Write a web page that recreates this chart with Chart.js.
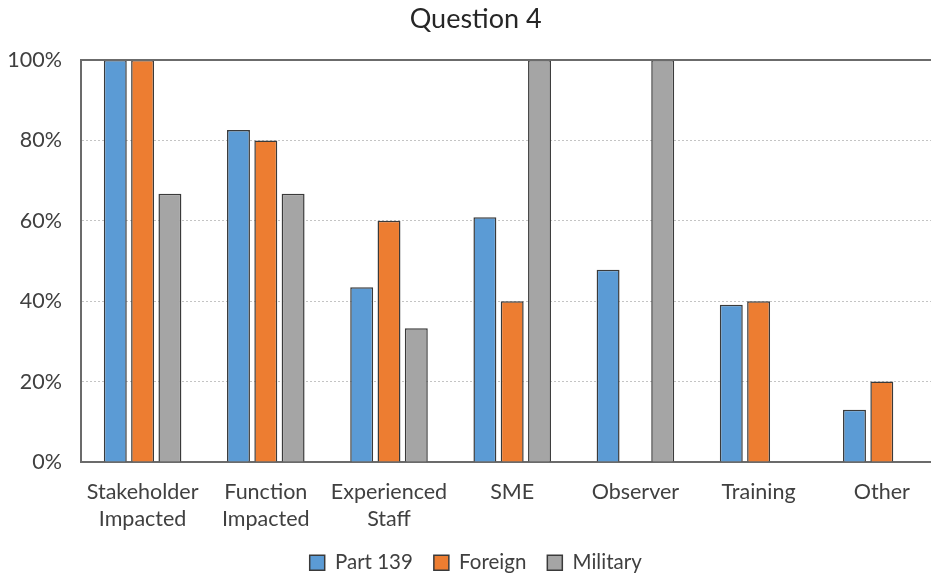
<!DOCTYPE html>
<html>
<head>
<meta charset="utf-8">
<script src="https://cdn.jsdelivr.net/npm/chart.js@4.4.0/dist/chart.umd.min.js"></script>
<style>
  html, body { margin: 0; padding: 0; background: #ffffff; overflow: hidden; }
  #wrap { width: 931px; height: 573px; overflow: hidden; position: relative; }
  #c { position: absolute; left: 0; top: 0; }
</style>
</head>
<body>
<div id="wrap"><canvas id="c" width="964" height="583"></canvas></div>
<script>
// Survey responses for Question 4, percent of each respondent group
const categories = [
  ["Stakeholder", "Impacted"],
  ["Function", "Impacted"],
  ["Experienced", "Staff"],
  "SME",
  "Observer",
  "Training",
  "Other"
];
const part139  = [100, 82.6, 43.5, 60.9, 47.8, 39.1, 13.0];
const foreign  = [100, 80, 60, 40, 0, 40, 20];
const military = [66.7, 66.7, 33.3, 100, 100, 0, 0];
const yTicks = [0, 20, 40, 60, 80, 100];

const FONT = "Lato, 'Open Sans', sans-serif";
const TEXT = "#404040";

// Solid rule along the top of the value axis
const topRule = {
  id: "topRule",
  afterDatasetsDraw(chart) {
    const y = chart.scales.y.getPixelForValue(100);
    const { left, right } = chart.chartArea;
    const ctx = chart.ctx;
    ctx.save();
    ctx.strokeStyle = "#6b6b6b";
    ctx.lineWidth = 2;
    ctx.beginPath();
    ctx.moveTo(left, y);
    ctx.lineTo(right, y);
    ctx.stroke();
    ctx.restore();
  }
};

new Chart(document.getElementById("c"), {
  type: "bar",
  data: {
    labels: categories,
    datasets: [
      { label: "Part 139", data: part139, backgroundColor: "#5b9bd5" },
      { label: "Foreign", data: foreign, backgroundColor: "#ed7d31" },
      { label: "Military", data: military, backgroundColor: "#a5a5a5" }
    ]
  },
  options: {
    responsive: false,
    animation: false,
    devicePixelRatio: 1,
    layout: { padding: { left: 8, right: 20.6, top: 0, bottom: 0 } },
    datasets: {
      bar: {
        borderColor: "#3a3a3a",
        borderWidth: 1.5,
        categoryPercentage: 0.665,
        barPercentage: 0.84
      }
    },
    plugins: {
      title: {
        display: true,
        text: "Question 4",
        color: "#262626",
        font: { family: FONT, size: 27, weight: "normal", lineHeight: 1.2 },
        padding: { top: 3, bottom: 24.6 }
      },
      legend: {
        position: "bottom",
        labels: {
          color: TEXT,
          font: { family: FONT, size: 20.5 },
          boxWidth: 15,
          boxHeight: 15,
          padding: 21,
          useBorderRadius: false
        }
      },
      tooltip: { enabled: false }
    },
    scales: {
      x: {
        grid: { display: false, drawTicks: false },
        border: { display: true, color: "#6b6b6b", width: 2 },
        ticks: {
          color: TEXT,
          font: { family: FONT, size: 21.5, lineHeight: 1.28 },
          padding: 16,
          maxRotation: 0,
          autoSkip: false
        },
        afterFit(scale) { scale.height = 69.5; }
      },
      y: {
        min: 0,
        max: 100,
        afterBuildTicks(scale) { scale.ticks = yTicks.map(v => ({ value: v })); },
        grid: {
          color: (c) => (c.tick && (c.tick.value === 0 || c.tick.value === 100)) ? "rgba(0,0,0,0)" : "#c4c4c4",
          lineWidth: 1,
          drawTicks: false
        },
        border: { display: true, color: "#6b6b6b", width: 2, dash: [2, 2] },
        ticks: {
          color: TEXT,
          font: { family: FONT, size: 21.5 },
          padding: 19,
          callback: (v) => v + "%"
        },
        afterFit(scale) { scale.width = 73; }
      }
    }
  },
  plugins: [topRule]
});
</script>
</body>
</html>
